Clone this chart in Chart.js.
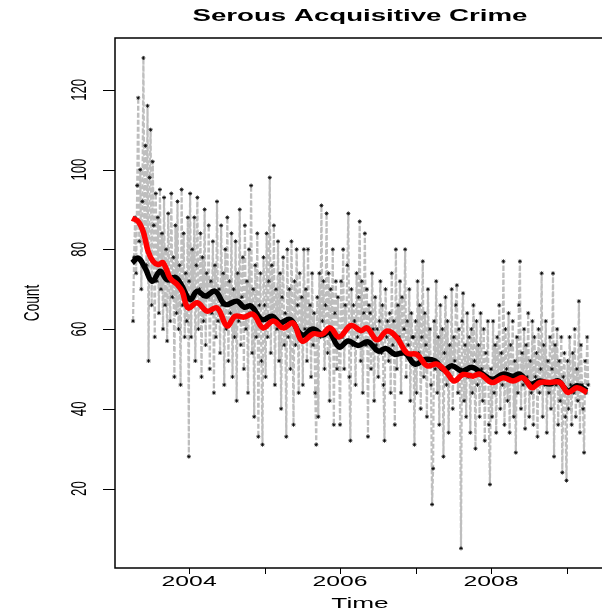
<!DOCTYPE html>
<html>
<head>
<meta charset="utf-8">
<script src="https://cdn.jsdelivr.net/npm/chart.js@4.4.1/dist/chart.umd.min.js"></script>
<style>
  html, body { margin: 0; padding: 0; background: #fff; overflow: hidden; width: 602px; height: 612px; }
  canvas { display: block; }
</style>
</head>
<body>
<canvas id="crime" width="610" height="612"></canvas>
<script>
// Daily counts, sampled every 5 days, one array per year
const counts2003 = [62, 78, 88, 74, 96, 118, 82, 100, 70, 92,
    128, 84, 106, 76, 116, 52, 98, 110, 66, 102,
    86, 58, 94, 72, 88, 64, 95, 70, 84, 60,
    93, 66, 80, 57, 89, 72, 62, 94, 68, 78,
    48, 86, 64, 92, 60, 76, 46, 95, 66, 84,
    58, 74, 62, 88, 28];
const counts2004 = [72, 94, 58, 80, 66, 88, 52, 76, 93, 60,
    70, 84, 48, 78, 62, 90, 56, 74, 68, 86,
    50, 72, 64, 82, 44, 76, 58, 92, 62, 70,
    54, 86, 66, 74, 46, 80, 60, 88, 52, 72,
    64, 84, 48, 70, 58, 82, 42, 74, 62, 90,
    56, 68, 78, 50, 86, 60, 72, 44, 80, 64,
    96, 54, 70, 38, 76, 58, 84, 33, 66, 74,
    52, 31, 78];
const counts2005 = [66, 48, 84, 58, 72, 98, 54, 76, 62, 86,
    46, 70, 60, 82, 52, 74, 40, 68, 78, 56,
    64, 33, 80, 58, 70, 50, 82, 62, 36, 72,
    56, 80, 66, 44, 74, 58, 68, 46, 80, 60,
    70, 52, 80, 60, 66, 48, 74, 56, 64, 44,
    31, 68, 38, 74, 58, 91, 62, 72, 50, 66,
    89, 54, 74, 42, 70, 58, 80, 36, 64, 72,
    50, 68, 56];
const counts2006 = [36, 72, 58, 80, 50, 66, 60, 76, 89, 48,
    32, 70, 56, 66, 62, 46, 74, 58, 68, 87,
    52, 72, 44, 64, 84, 56, 70, 33, 66, 64,
    50, 74, 60, 42, 68, 56, 60, 48, 62, 72,
    54, 66, 46, 32, 70, 58, 62, 52, 64, 44,
    74, 56, 62, 36, 80, 50, 66, 58, 72, 44,
    68, 54, 60, 80, 48, 62, 56, 70, 42, 64,
    58, 58, 31];
const counts2007 = [62, 44, 72, 54, 66, 40, 58, 77, 48, 64,
    56, 38, 70, 52, 60, 46, 16, 25, 62, 50,
    72, 44, 58, 36, 66, 50, 60, 28, 54, 68,
    46, 62, 34, 56, 48, 70, 40, 58, 52, 66,
    71, 44, 60, 50, 5, 62, 69, 42, 56, 38,
    64, 48, 58, 34, 60, 44, 66, 52, 30, 62,
    46, 56, 38, 64, 50, 42, 60, 32, 54, 48,
    62, 36, 21];
const counts2008 = [50, 38, 62, 44, 56, 34, 58, 48, 66, 40,
    54, 46, 77, 36, 60, 50, 42, 64, 34, 56,
    48, 62, 38, 52, 29, 58, 44, 66, 77, 40,
    54, 46, 60, 35, 56, 48, 64, 38, 52, 44,
    62, 36, 58, 48, 54, 33, 60, 44, 50, 74,
    38, 56, 46, 62, 34, 52, 44, 58, 40, 50,
    74, 28, 56, 46, 60, 36, 52, 42, 58, 24,
    48, 54, 38];
const counts2009 = [22, 52, 40, 58, 46, 36, 54, 44, 60, 38,
    50, 42, 67, 34, 56, 46, 40, 29, 52, 44, 58, 46];

// first day-of-year of each yearly block
const blocks = [
    [2003, 94, counts2003],
    [2004, 0, counts2004],
    [2005, 0, counts2005],
    [2006, 0, counts2006],
    [2007, 0, counts2007],
    [2008, 0, counts2008],
    [2009, 0, counts2009]
];
const stepDays = 5;

// smoothed trends (time in decimal years)
const trendBlackTime = [2003.245, 2003.325, 2003.417, 2003.510, 2003.616, 2003.709, 2003.815, 2003.894,
    2004.013, 2004.106, 2004.212, 2004.344, 2004.477, 2004.636, 2004.728, 2004.821, 2004.967,
    2005.099, 2005.205, 2005.338, 2005.497, 2005.642, 2005.775, 2005.855, 2005.987,
    2006.106, 2006.238, 2006.371, 2006.503, 2006.609, 2006.728, 2006.861, 2006.993,
    2007.126, 2007.258, 2007.377, 2007.483, 2007.616, 2007.748, 2007.854,
    2008.013, 2008.159, 2008.291, 2008.384, 2008.517, 2008.649, 2008.781, 2008.887,
    2009.020, 2009.139, 2009.272];
const trendBlack = [76.6, 77.8, 75.3, 72.0, 74.5, 72.4, 73.0, 71.2,
    67.4, 69.5, 68.3, 69.5, 66.2, 67.0, 65.5, 65.8, 62.4,
    63.2, 61.6, 62.4, 58.5, 60.0, 58.5, 59.3, 55.5,
    57.0, 55.9, 56.8, 54.5, 55.1, 53.7, 54.0, 51.2,
    52.4, 52.0, 49.8, 50.8, 49.5, 50.4, 49.2,
    47.4, 48.7, 48.2, 48.7, 46.2, 47.0, 46.2, 47.0,
    44.5, 45.8, 44.5];
const trendRedTime = [2003.245, 2003.325, 2003.391, 2003.457, 2003.523, 2003.589, 2003.656, 2003.748, 2003.841, 2003.907, 2003.987,
    2004.106, 2004.238, 2004.371, 2004.503, 2004.609, 2004.728, 2004.848, 2004.980,
    2005.113, 2005.245, 2005.377, 2005.497, 2005.642, 2005.762, 2005.868, 2005.987,
    2006.146, 2006.278, 2006.358, 2006.490, 2006.623, 2006.755, 2006.887,
    2007.020, 2007.152, 2007.285, 2007.417, 2007.510, 2007.629, 2007.762, 2007.854,
    2008.013, 2008.159, 2008.291, 2008.424, 2008.543, 2008.649, 2008.781, 2008.914,
    2009.020, 2009.139, 2009.272];
const trendRed = [87.8, 87.0, 84.5, 79.5, 77.0, 76.2, 76.6, 72.8, 71.2, 69.5, 65.3,
    66.6, 64.5, 65.3, 60.8, 63.2, 63.0, 63.7, 60.3,
    62.0, 60.3, 61.5, 57.0, 58.8, 58.7, 60.3, 58.0,
    60.9, 59.6, 60.3, 57.3, 59.5, 57.8, 54.0,
    53.6, 50.8, 51.2, 49.0, 47.0, 48.6, 48.2, 48.7,
    46.6, 47.8, 47.0, 47.8, 45.3, 46.6, 46.6, 46.6,
    44.1, 45.3, 44.1];

const yTicks = [20, 40, 60, 80, 100, 120];
const xTicks = [2004, 2005, 2006, 2007, 2008, 2009];
const xLabels = ['2004', '', '2006', '', '2008', ''];

const daily = [];
blocks.forEach(function (b) {
    b[2].forEach(function (v, i) {
        daily.push({ x: b[0] + (b[1] + i * stepDays) / 365.25, y: v });
    });
});
const toPoints = (t, v) => t.map((x, i) => ({ x: x, y: v[i] }));

function drawText(ctx, s, x, y, font, sx, sy, rot) {
    ctx.save();
    ctx.translate(x, y);
    if (rot) ctx.rotate(rot);
    ctx.scale(sx, sy);
    ctx.font = font;
    ctx.fillStyle = '#000';
    ctx.textAlign = 'center';
    ctx.textBaseline = 'middle';
    ctx.fillText(s, 0, 0);
    ctx.restore();
}

// box, ticks and labels in the base-graphics look
const frame = {
    id: 'frame',
    afterDraw(chart) {
        const ctx = chart.ctx;
        const a = chart.chartArea;
        const xs = chart.scales.x, ys = chart.scales.y;
        ctx.save();
        ctx.strokeStyle = '#000';
        ctx.lineWidth = 1.5;
        ctx.strokeRect(a.left, a.top, a.right - a.left, a.bottom - a.top);
        ctx.lineWidth = 1;
        ctx.beginPath();
        yTicks.forEach(function (v) {
            const y = Math.round(ys.getPixelForValue(v)) + 0.5;
            ctx.moveTo(a.left - 12, y);
            ctx.lineTo(a.left, y);
        });
        xTicks.forEach(function (v) {
            const x = Math.round(xs.getPixelForValue(v)) + 0.5;
            ctx.moveTo(x, a.bottom);
            ctx.lineTo(x, a.bottom + 6);
        });
        ctx.stroke();
        ctx.restore();

        yTicks.forEach(function (v) {
            drawText(ctx, String(v), 80, ys.getPixelForValue(v), '22px "Liberation Sans", Arial', 0.6, 1, -Math.PI / 2);
        });
        xTicks.forEach(function (v, i) {
            if (xLabels[i]) drawText(ctx, xLabels[i], xs.getPixelForValue(v), 582, '15px "Liberation Sans", Arial', 1.65, 1, 0);
        });
        drawText(ctx, 'Time', 360, 604, '15px "Liberation Sans", Arial', 1.75, 1, 0);
        drawText(ctx, 'Count', 33, 303, '22px "Liberation Sans", Arial', 0.62, 1, -Math.PI / 2);

        ctx.save();
        ctx.font = 'bold 16px "Liberation Sans", Arial';
        const w = ctx.measureText('Serous Acquisitive Crime').width;
        ctx.restore();
        drawText(ctx, 'Serous Acquisitive Crime', 360, 17, 'bold 16px "Liberation Sans", Arial', 335 / w, 1, 0);
    }
};

new Chart(document.getElementById('crime'), {
    type: 'line',
    data: {
        datasets: [{
            data: toPoints(trendRedTime, trendRed),
            borderColor: '#ff0000',
            borderWidth: 5.5,
            pointRadius: 0,
            tension: 0.4,
            order: 0
        }, {
            data: toPoints(trendBlackTime, trendBlack),
            borderColor: '#000000',
            borderWidth: 5.5,
            pointRadius: 0,
            tension: 0.4,
            order: 1
        }, {
            data: daily,
            borderColor: '#bebebe',
            borderWidth: 2.2,
            borderDash: [5, 2],
            pointStyle: 'star',
            pointRadius: 2,
            pointBorderColor: '#000',
            pointBorderWidth: 0.8,
            tension: 0,
            order: 2
        }]
    },
    options: {
        responsive: false,
        animation: false,
        layout: { padding: { left: 115, right: 5, top: 38, bottom: 44 } },
        plugins: {
            legend: { display: false },
            tooltip: { enabled: false }
        },
        scales: {
            x: { type: 'linear', min: 2003.018, max: 2009.51, display: false },
            y: { min: 0.08, max: 133, display: false }
        }
    },
    plugins: [frame]
});
</script>
</body>
</html>
